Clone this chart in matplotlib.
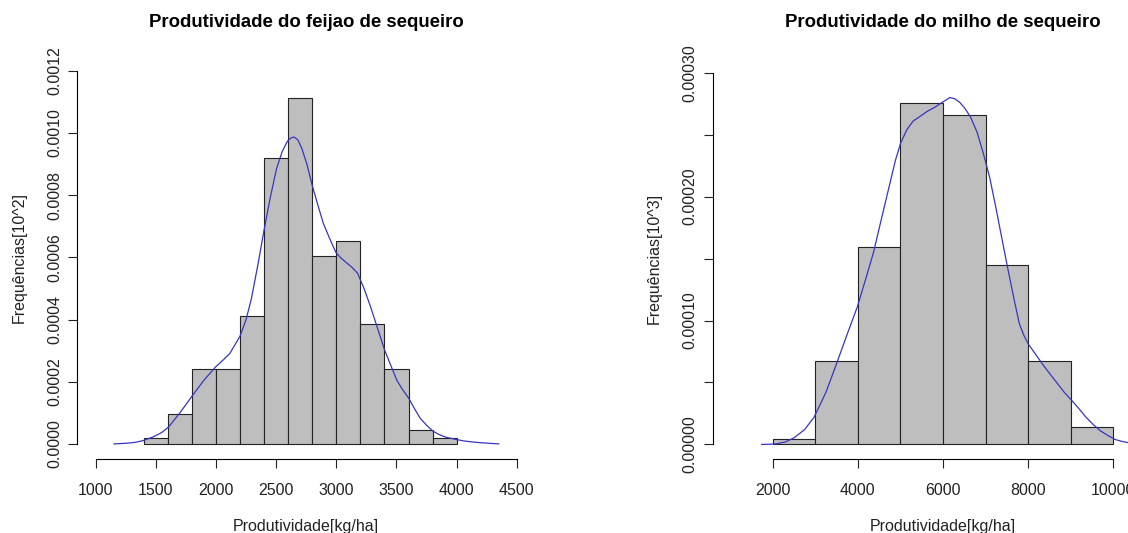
import numpy as np
import matplotlib.pyplot as plt

plt.rcParams['font.family'] = ['Liberation Sans', 'DejaVu Sans']

# ==========================
# Dados (densidades lidas do histograma)
# ==========================
feijao_bordas = [1400, 1600, 1800, 2000, 2200, 2400, 2600, 2800,
                 3000, 3200, 3400, 3600, 3800, 4000]
feijao_dens = [0.00002, 0.0000967, 0.000241, 0.000241, 0.00041, 0.000919,
               0.001112, 0.000603, 0.000651, 0.000385, 0.000241, 0.000045,
               0.00002]

feijao_kde_x = [1152, 1250, 1330, 1397, 1487, 1550, 1607, 1700, 1801, 1900,
                1995, 2060, 2115, 2199, 2250, 2294, 2350, 2399, 2450, 2503,
                2550, 2593, 2620, 2647, 2680, 2713, 2755, 2797, 2845, 2892,
                2945, 2997, 3040, 3086, 3130, 3176, 3230, 3281, 3340, 3401,
                3455, 3505, 3550, 3600, 3650, 3698, 3750, 3803, 3855, 3907,
                3997, 4070, 4147, 4250, 4350]
feijao_kde_y = [0.0, 0.000002, 0.000005, 0.000011, 0.000024, 0.000037,
                0.000055, 0.0001, 0.000154, 0.000205, 0.000247, 0.00027,
                0.000291, 0.000346, 0.0004, 0.000467, 0.00058, 0.000687,
                0.00079, 0.000885, 0.00094, 0.000973, 0.000983, 0.000987,
                0.000978, 0.00095, 0.0009, 0.000835, 0.00077, 0.000709,
                0.00066, 0.000615, 0.000597, 0.000582, 0.000568, 0.000549,
                0.0005, 0.000445, 0.000375, 0.000302, 0.00025, 0.000203,
                0.000175, 0.000148, 0.000113, 0.000082, 0.00006, 0.000041,
                0.00003, 0.000022, 0.000014, 0.000009, 0.0000055,
                0.0000025, 0.0]

milho_bordas = [2000, 3000, 4000, 5000, 6000, 7000, 8000, 9000, 10000]
milho_dens = [0.0000047, 0.0000673, 0.0001596, 0.0002758, 0.000266,
              0.0001448, 0.0000673, 0.000014]

milho_kde_x = [1742, 1900, 2085, 2300, 2507, 2750, 2972, 3250, 3522, 3750,
               3987, 4180, 4368, 4560, 4748, 4880, 5002, 5150, 5298, 5470,
               5636, 5800, 5975, 6161, 6280, 6397, 6520, 6651, 6800, 6947,
               7100, 7243, 7390, 7539, 7670, 7793, 7900, 8004, 8170, 8342,
               8510, 8681, 8850, 9019, 9190, 9357, 9530, 9696, 9860, 10034,
               10200, 10355, 10600]
milho_kde_y = [0.0, 0.0000001, 0.0000005, 0.000002, 0.0000055, 0.000012,
               0.000022, 0.000042, 0.0000673, 0.000089, 0.000111, 0.000133,
               0.000155, 0.000183, 0.00021, 0.000229, 0.000243, 0.000254,
               0.000261, 0.000265, 0.000269, 0.000272, 0.000276, 0.00028,
               0.000279, 0.000276, 0.000271, 0.000264, 0.000252, 0.000235,
               0.000215, 0.000191, 0.000165, 0.000139, 0.000117, 0.0000975,
               0.000088, 0.000081, 0.000073, 0.0000646, 0.000057, 0.0000495,
               0.000042, 0.0000357, 0.000029, 0.000022, 0.000016, 0.000011,
               0.0000075, 0.0000041, 0.0000025, 0.0000014, 0.0]

# ==========================
# Figura
# ==========================
W, H = 1128, 533
fig = plt.figure(figsize=(W / 100, H / 100), dpi=100)


def caixa(esq, dir, topo, base):
    return [esq / W, 1 - base / H, (dir - esq) / W, (base - topo) / H]


def painel(ax, bordas, dens, kx, ky, xlim, ylim, xt, yt, ylab_t):
    larg = np.diff(bordas)
    ax.bar(bordas[:-1], dens, width=larg, align='edge', color='#bebebe',
           edgecolor='#222222', linewidth=0.8)
    ax.plot(kx, ky, color='#3636c0', linewidth=0.9)
    ax.set_xlim(*xlim)
    ax.set_ylim(*ylim)
    for s in ['top', 'right']:
        ax.spines[s].set_visible(False)
    ax.spines['left'].set_bounds(yt[0], yt[-1])
    ax.spines['bottom'].set_bounds(xt[0], xt[-1])
    for s in ['left', 'bottom']:
        ax.spines[s].set_linewidth(0.8)
    ax.set_xticks(xt)
    ax.set_xticklabels([str(v) for v in xt])
    ax.set_yticks(yt)
    ax.set_yticklabels(ylab_t, rotation=90, va='center')
    ax.tick_params(axis='both', length=6.5, width=0.8, labelsize=11.5,
                   colors='#222222')
    ax.tick_params(axis='x', pad=10.5)
    ax.tick_params(axis='y', pad=4.5)
    ax.set_facecolor('none')


ax1 = fig.add_axes(caixa(77.3, 535.2, 55.3, 459.3))
painel(ax1, feijao_bordas, feijao_dens, feijao_kde_x, feijao_kde_y,
       (847, 4653), (-0.0000495, 0.0012495),
       [1000, 1500, 2000, 2500, 3000, 3500, 4000, 4500],
       [0, 0.0002, 0.0004, 0.0006, 0.0008, 0.0010, 0.0012],
       ['0.0000', '0.0002', '0.0004', '0.0006', '0.0008', '0.0010', '0.0012'])

ax2 = fig.add_axes(caixa(713.1, 1172.9, 57.9, 459.3))
painel(ax2, milho_bordas, milho_dens, milho_kde_x, milho_kde_y,
       (600, 11400), (-0.000012, 0.000312),
       [2000, 4000, 6000, 8000, 10000],
       [0, 0.00005, 0.0001, 0.00015, 0.0002, 0.00025, 0.0003],
       ['0.00000', '', '0.00010', '', '0.00020', '', '0.00030'])

# títulos e rótulos
fig.text(306.2 / W, 1 - 27 / H, 'Produtividade do feijao de sequeiro',
         ha='center', va='baseline', fontsize=13.4, fontweight='bold')
fig.text(943 / W, 1 - 27 / H, 'Produtividade do milho de sequeiro',
         ha='center', va='baseline', fontsize=13.4, fontweight='bold')

fig.text(306.2 / W, 1 - 531.5 / H, 'Produtividade[kg/ha]', ha='center',
         va='baseline', fontsize=11.5, color='#222222')
fig.text(943 / W, 1 - 531.5 / H, 'Produtividade[kg/ha]', ha='center',
         va='baseline', fontsize=11.5, color='#222222')

fig.text(24 / W, 1 - 257.3 / H, 'Frequências[10^2]', rotation=90,
         rotation_mode='anchor', ha='center', va='baseline', fontsize=11.5,
         color='#222222')
fig.text(659 / W, 1 - 258.6 / H, 'Frequências[10^3]', rotation=90,
         rotation_mode='anchor', ha='center', va='baseline', fontsize=11.5,
         color='#222222')

fig.savefig('out.png', dpi=100)
plt.close()
